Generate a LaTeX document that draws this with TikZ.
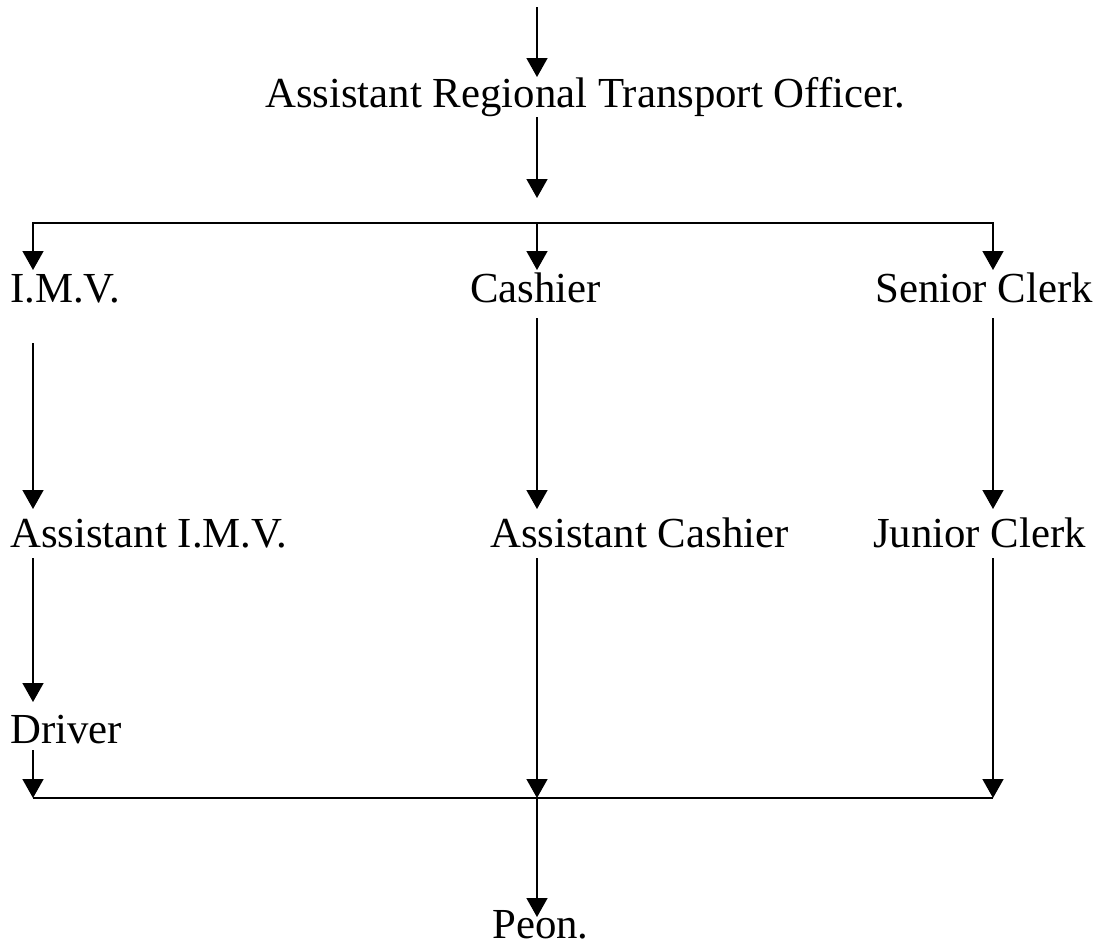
\documentclass[tikz,border=0pt]{standalone}
\usepackage{fontspec}
\setmainfont{Liberation Serif}
\usetikzlibrary{arrows.meta}
\tikzset{
  lbl/.style={anchor=base west, inner sep=0pt, font=\fontsize{42.8}{50}\selectfont},
  conn/.style={line width=1.6pt},
  arr/.style={conn, -{Triangle[length=19pt,width=21pt]}}
}
\begin{document}
\begin{tikzpicture}[x=1pt,y=-1pt]
\useasboundingbox (0,0) rectangle (1096,948);
% labels
\node[lbl] (arto) at (265,107) {Assistant Regional Transport Officer.};
\node[lbl] (imv) at (10,302) {I.M.V.};
\node[lbl] (cash) at (470,302) {Cashier};
\node[lbl] (sr) at (875,302) {Senior Clerk};
\node[lbl] (aimv) at (10,547) {Assistant I.M.V.};
\node[lbl] (acash) at (490,547) {Assistant Cashier};
\node[lbl] (jc) at (873,547) {Junior Clerk};
\node[lbl] (drv) at (10,743) {Driver};
\node[lbl] (peon) at (492,938) {Peon.};
% connector points
\coordinate (a0) at (537,7);   \coordinate (a1) at (537,77);
\coordinate (b0) at (537,117); \coordinate (b1) at (537,198);
\coordinate (barC) at (537,223);
\coordinate (imvT) at (33,270); \coordinate (cashT) at (537,270); \coordinate (srT) at (993,270);
\coordinate (imvB) at (33,343); \coordinate (aimvT) at (33,509);
\coordinate (cashB) at (537,318); \coordinate (acashT) at (537,509);
\coordinate (srB) at (993,318); \coordinate (jcT) at (993,509);
\coordinate (aimvB) at (33,558); \coordinate (drvT) at (33,702);
\coordinate (drvB) at (33,750); \coordinate (bar2L) at (33,798);
\coordinate (acashB) at (537,558); \coordinate (bar2C) at (537,798);
\coordinate (jcB) at (993,558); \coordinate (bar2R) at (993,798);
\coordinate (peonT) at (537,917);
% connectors
\draw[arr] (a0) -- (a1);
\draw[arr] (b0) -- (b1);
\draw[arr] (barC) -| (imvT);
\draw[arr] (barC) -| (srT);
\draw[arr] (barC) -- (cashT);
\draw[arr] (imvB) -- (aimvT);
\draw[arr] (cashB) -- (acashT);
\draw[arr] (srB) -- (jcT);
\draw[arr] (aimvB) -- (drvT);
\draw[arr] (drvB) -- (bar2L);
\draw[arr] (acashB) -- (bar2C);
\draw[arr] (jcB) -- (bar2R);
\draw[conn] (bar2L) -- (bar2R);
\draw[arr] (bar2C) -- (peonT);
\end{tikzpicture}
\end{document}
